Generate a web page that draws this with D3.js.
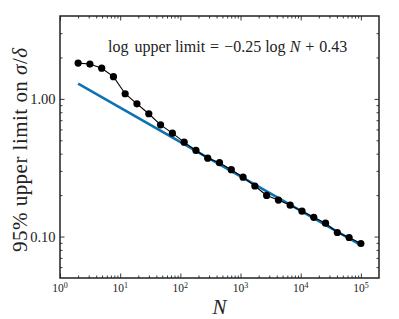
<!DOCTYPE html>
<html>
<head>
<meta charset="utf-8">
<script src="https://cdn.jsdelivr.net/npm/d3@7"></script>
<style>
	body { margin: 0; background: #fff; }
	svg { display: block; }
	text { font-family: "Liberation Serif", "Times New Roman", serif; fill: #222; }
</style>
</head>
<body>
<svg id="svg_main" width="399" height="319"></svg>
<script>
// sample sizes (log spaced from 2 to 1e5)
var sampleN = [2, 3.14, 4.93, 7.73, 12.1, 19.0, 29.9, 46.9, 73.7, 115.7, 181.6, 285, 447,
	702, 1102, 1729, 2715, 4261, 6689, 10498, 16477, 25863, 40594, 63716, 100000];
// 95% upper limit on sigma/delta
var upperLimit = [1.82, 1.79, 1.67, 1.45, 1.09, 0.92, 0.78, 0.648, 0.564, 0.485, 0.422, 0.371,
	0.344, 0.306, 0.270, 0.233, 0.199, 0.184, 0.169, 0.153, 0.138, 0.125, 0.107, 0.0984, 0.089];
// fitted line end points
var fitN = [2, 100000];
var fitValue = [1.29, 0.0865];

var xTicks = [1, 10, 100, 1000, 10000, 100000],
	xTickExp = ["0", "1", "2", "3", "4", "5"];
var yTicks = [0.1, 1],
	yTickLabels = ["0.10", "1.00"];

var margin = { top: 16, right: 20, bottom: 41, left: 60 };

function minors(lo, hi) {
	var out = [];
	for (var e = Math.floor(Math.log10(lo)); e <= Math.ceil(Math.log10(hi)); e++)
		for (var k = 2; k < 10; k++) {
			var v = k * Math.pow(10, e);
			if (v > lo * 1.0001 && v < hi * 0.9999) out.push(v);
		}
	return out;
}

function main() {
	var svg = d3.select("#svg_main");
	var width = parseInt(svg.attr("width")) - margin.left - margin.right,
		height = parseInt(svg.attr("height")) - margin.top - margin.bottom;

	var g = svg.append("g")
		.attr("transform", `translate(${margin.left}, ${margin.top})`);

	var x = d3.scaleLog().domain([1, 2e5]).range([0, width]),
		y = d3.scaleLog().domain([0.05, 4]).range([height, 0]);

	var xMin = minors(1, 2e5), yMin = minors(0.05, 4);

	// ticks pointing inward, on all four sides
	var sides = [
		[d3.axisBottom, x, `translate(0, ${height})`, xTicks, xMin],
		[d3.axisTop, x, "translate(0, 0)", xTicks, xMin],
		[d3.axisLeft, y, "translate(0, 0)", yTicks, yMin],
		[d3.axisRight, y, `translate(${width}, 0)`, yTicks, yMin]
	];
	for (let s of sides) {
		g.append("g").attr("class", "axis").attr("transform", s[2])
			.call(s[0](s[1]).tickValues(s[3]).tickSize(-4.5).tickFormat(""));
		g.append("g").attr("class", "axis").attr("transform", s[2])
			.call(s[0](s[1]).tickValues(s[4]).tickSize(-2.5).tickFormat(""));
	}
	g.selectAll(".axis .domain").remove();
	g.selectAll(".axis line").attr("stroke", "#222").attr("stroke-width", 0.9);

	// tick labels
	xTicks.forEach((t, i) => {
		let lab = g.append("text")
			.attr("x", x(t))
			.attr("y", height + 14)
			.attr("text-anchor", "middle")
			.attr("font-size", "11.5px")
			.attr("fill", "#333");
		lab.append("tspan").text("10");
		lab.append("tspan").attr("dy", -4.5).attr("font-size", "8px").text(xTickExp[i]);
	});
	yTicks.forEach((t, i) => {
		g.append("text")
			.attr("x", -4.5)
			.attr("y", y(t) + 5)
			.attr("text-anchor", "end")
			.attr("font-size", "14.5px")
			.attr("fill", "#333")
			.text(yTickLabels[i]);
	});

	// fit line
	var fit = fitN.map((n, i) => ({ n: n, v: fitValue[i] }));
	var line = d3.line().x(d => x(d.n)).y(d => y(d.v));
	g.append("path")
		.datum(fit)
		.attr("d", line)
		.attr("fill", "none")
		.attr("stroke", "#0b72b4")
		.attr("stroke-width", 2.6);

	// data
	var data = sampleN.map((n, i) => ({ n: n, v: upperLimit[i] }));
	g.append("path")
		.datum(data)
		.attr("d", line)
		.attr("fill", "none")
		.attr("stroke", "#000")
		.attr("stroke-width", 1.1);
	g.selectAll(".dot")
		.data(data)
		.enter().append("circle")
		.attr("class", "dot")
		.attr("cx", d => x(d.n))
		.attr("cy", d => y(d.v))
		.attr("r", 3.6)
		.attr("fill", "#000");

	// frame
	g.append("rect")
		.attr("width", width)
		.attr("height", height)
		.attr("fill", "none")
		.attr("stroke", "#222")
		.attr("stroke-width", 1.5);

	// annotation
	var ann = g.append("text")
		.attr("x", 48)
		.attr("y", 36)
		.attr("font-size", "16px");
	ann.append("tspan").text("log");
	ann.append("tspan").attr("dx", 6).text("upper limit");
	ann.append("tspan").attr("dx", 5).text("=");
	ann.append("tspan").attr("dx", 5).text("\u22120.25");
	ann.append("tspan").attr("dx", 4).text("log");
	ann.append("tspan").attr("dx", 4).attr("font-style", "italic").text("N");
	ann.append("tspan").attr("dx", 5).text("+");
	ann.append("tspan").attr("dx", 5).text("0.43");

	// axis labels
	g.append("text")
		.attr("x", width / 2)
		.attr("y", height + 36)
		.attr("text-anchor", "middle")
		.attr("font-size", "21px")
		.attr("font-style", "italic")
		.text("N");

	var yl = svg.append("text")
		.attr("transform", `translate(27, ${margin.top + height / 2 + 3}) rotate(-90)`)
		.attr("text-anchor", "middle")
		.attr("font-size", "21px")
		.attr("textLength", 204)
		.attr("lengthAdjust", "spacing");
	yl.append("tspan").text("95% upper limit on ");
	yl.append("tspan").attr("font-style", "italic").text("\u03c3");
	yl.append("tspan").text("/");
	yl.append("tspan").attr("font-style", "italic").text("\u03b4");
}

main();
</script>
</body>
</html>
